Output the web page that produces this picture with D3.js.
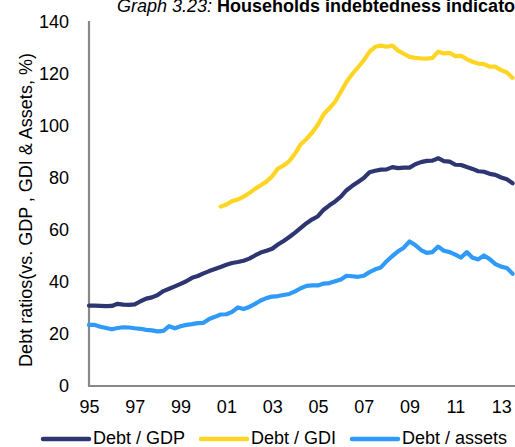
<!DOCTYPE html>
<html>
<head>
<meta charset="utf-8">
<script src="https://cdn.jsdelivr.net/npm/d3@7"></script>
<style>
  html, body { margin: 0; padding: 0; background: #fff; overflow: hidden; }
  svg { display: block; font-family: "Liberation Sans", Arial, sans-serif; }
</style>
</head>
<body>
<svg id="chart" width="515" height="447"></svg>
<script>
// Quarterly data, 1995Q1 .. 2013Q3
const startYear = 1995;
const debtGDP = [30.9,30.9,30.8,30.7,30.8,31.6,31.3,31.2,31.4,32.6,33.6,34.1,35.0,36.5,37.4,38.3,
  39.3,40.3,41.6,42.3,43.3,44.2,45.0,45.8,46.6,47.3,47.7,48.2,49.0,50.2,51.3,52.0,
  52.8,54.4,55.8,57.3,59.0,60.8,62.6,64.1,65.3,67.8,69.5,71.0,72.8,75.3,77.0,78.5,
  80.0,82.2,82.8,83.2,83.3,84.2,83.8,84.0,84.0,85.3,86.1,86.6,86.7,87.6,86.5,86.3,
  85.1,85.0,84.2,83.5,82.6,82.4,81.6,81.2,80.2,79.5,78.0];
const debtGDI = [null,null,null,null,null,null,null,null,null,null,null,null,null,null,null,null,
  null,null,null,null,null,null,null,69.0,69.8,71.1,71.7,72.8,74.2,75.8,77.2,78.6,
  80.7,83.6,84.8,86.5,89.4,93.0,95.0,97.5,100.6,104.5,106.8,109.4,113.2,117.0,120.0,122.6,
  125.3,128.5,130.5,130.9,130.5,130.9,129.0,127.8,126.6,126.2,126.0,125.9,126.2,128.6,127.9,128.1,
  126.9,127.0,125.7,124.7,124.0,123.8,122.8,122.8,121.5,120.6,118.5];
const debtAssets = [23.5,23.5,22.8,22.3,21.8,22.3,22.6,22.5,22.2,22.0,21.6,21.4,21.0,21.2,23.0,22.2,
  23.0,23.5,23.8,24.2,24.3,25.8,26.6,27.5,27.6,28.5,30.2,29.6,30.4,31.6,32.9,33.8,
  34.4,34.6,35.0,35.4,36.4,37.6,38.5,38.7,38.7,39.4,39.6,40.3,41.0,42.4,42.2,42.0,
  42.4,43.8,44.9,45.6,48.0,50.0,51.8,53.2,55.6,54.2,52.3,51.2,51.5,53.6,52.0,51.5,
  50.5,49.4,51.5,49.3,48.7,50.2,48.8,46.9,45.9,45.4,43.2];
const yTicks = [0,20,40,60,80,100,120,140];
const xTickYears = [1995,1997,1999,2001,2003,2005,2007,2009,2011,2013];
const xTickLabels = ["95","97","99","01","03","05","07","09","11","13"];
const seriesNames = ["Debt / GDP","Debt / GDI","Debt / assets"];
const seriesColors = ["#2E3672","#FFD524","#2F9AF7"];
const yLabel = "Debt ratios(vs. GDP , GDI & Assets, %)";

const svg = d3.select("#chart");
const x = d3.scaleLinear().domain([1995, 2013.5]).range([89, 512.6]);
const y = d3.scaleLinear().domain([0, 140]).range([386, 22]);

// Title
const title = svg.append("text").attr("x", 117).attr("y", 11.5).attr("font-size", 18).attr("fill", "#000");
title.append("tspan").attr("font-style", "italic").text("Graph 3.23: ");
title.append("tspan").attr("font-weight", "bold").text("Households indebtedness indicators");

// Axes
const yAxis = d3.axisLeft(y).tickValues(yTicks).tickSize(0).tickPadding(20);
const gy = svg.append("g").attr("transform", "translate(89,0)").call(yAxis);
gy.select(".domain").attr("stroke", "#888").attr("stroke-width", 2.2).attr("d", `M0,21V${y(0)}`);
gy.selectAll("text").attr("font-size", 18).attr("fill", "#000").attr("font-family", "Liberation Sans, Arial, sans-serif");

const xAxis = d3.axisBottom(x).tickValues(xTickYears).tickFormat((d,i) => xTickLabels[i]).tickSize(0).tickPadding(14);
const gx = svg.append("g").attr("transform", `translate(0,${y(0)})`).call(xAxis);
gx.select(".domain").attr("stroke", "#888").attr("stroke-width", 2.2).attr("d", "M88,0H520");
gx.selectAll("text").attr("font-size", 18).attr("fill", "#000").attr("font-family", "Liberation Sans, Arial, sans-serif");

// Y label
svg.append("text")
  .attr("transform", "translate(32,210) rotate(-90)")
  .attr("text-anchor", "middle")
  .attr("font-size", 18)
  .attr("fill", "#000")
  .text(yLabel);

// Lines
const allSeries = [debtGDP, debtGDI, debtAssets];
const line = d3.line()
  .defined(d => d.v != null)
  .x(d => x(d.t))
  .y(d => y(d.v));
// draw order: GDI, GDP, assets
[1,0,2].forEach(k => {
  const data = allSeries[k].map((v,i) => ({t: startYear + i/4, v: v}));
  svg.append("path")
    .datum(data)
    .attr("fill", "none")
    .attr("stroke", seriesColors[k])
    .attr("stroke-width", 4.2)
    .attr("stroke-linejoin", "round")
    .attr("stroke-linecap", "round")
    .attr("d", line);
});

// Legend
const legendPos = [[43,93],[201,251],[352,402]];
seriesNames.forEach((name, k) => {
  const [sx, tx] = legendPos[k];
  svg.append("line").attr("x1", sx).attr("x2", sx + 46).attr("y1", 439).attr("y2", 439)
    .attr("stroke", seriesColors[k]).attr("stroke-width", 4.5).attr("stroke-linecap", "round");
  svg.append("text").attr("x", tx).attr("y", 443.5).attr("font-size", 18).attr("fill", "#000").text(name);
});
</script>
</body>
</html>
